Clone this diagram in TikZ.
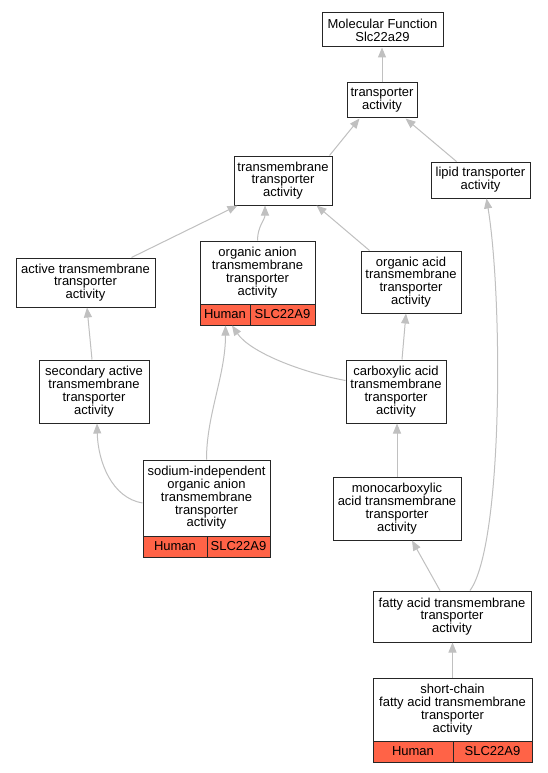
\documentclass[tikz,border=0pt]{standalone}
\usepackage{fontspec}
\setmainfont{Liberation Sans}
\usetikzlibrary{arrows.meta,calc}
\definecolor{edgegray}{RGB}{192,192,192}
\definecolor{tomatofill}{RGB}{255,99,71}
\begin{document}
\begin{tikzpicture}[x=1pt,y=-1pt,
  box/.style={draw=black!85, line width=1pt, fill=white, inner sep=0pt, align=center,
    font=\fontsize{13}{12.8}\selectfont},
  cell/.style={box, fill=tomatofill},
  frame/.style={draw=black!85, line width=1pt, inner sep=0pt},
  edge/.style={draw=edgegray, line width=1pt, -{Triangle[length=10pt,width=8pt]}}]
\useasboundingbox[fill=white] (0,0) rectangle (547,773);

% plain nodes
\node[box, minimum width=121, minimum height=34] (mf) at (382.5,30) {Molecular Function\\Slc22a29};
\node[box, minimum width=70, minimum height=35] (tr) at (382,100.5) {transporter\\activity};
\node[box, minimum width=98, minimum height=49] (tm) at (283,180.5) {transmembrane\\transporter\\activity};
\node[box, minimum width=99, minimum height=36] (lp) at (480.5,180) {lipid transporter\\activity};
\node[box, minimum width=139, minimum height=49] (act) at (85.5,282.5) {active transmembrane\\transporter\\activity};
\node[box, minimum width=100, minimum height=62] (oacid) at (411,282) {organic acid\\transmembrane\\transporter\\activity};
\node[box, minimum width=110, minimum height=63] (sec) at (94,391.5) {secondary active\\transmembrane\\transporter\\activity};
\node[box, minimum width=100, minimum height=63] (carb) at (396,391.5) {carboxylic acid\\transmembrane\\transporter\\activity};
\node[box, minimum width=128, minimum height=63] (mono) at (397,508.5) {monocarboxylic\\acid transmembrane\\transporter\\activity};
\node[box, minimum width=158, minimum height=51] (fa) at (452,616.5) {fatty acid transmembrane\\transporter\\activity};

% record: organic anion
\node[box, minimum width=115, minimum height=63] (oatop) at (257.5,272.5) {organic anion\\transmembrane\\transporter\\activity};
\node[cell, minimum width=50, minimum height=21] (oah) at (225,314.5) {Human};
\node[cell, minimum width=65, minimum height=21] (oag) at (282.5,314.5) {SLC22A9};
\node[frame, minimum width=115, minimum height=84] (oa) at (257.5,283) {};

% record: sodium-independent
\node[box, minimum width=127, minimum height=76] (sitop) at (206.5,498) {sodium-independent\\organic anion\\transmembrane\\transporter\\activity};
\node[cell, minimum width=64, minimum height=21] (sih) at (175,546.5) {Human};
\node[cell, minimum width=63, minimum height=21] (sig) at (238.5,546.5) {SLC22A9};
\node[frame, minimum width=127, minimum height=97] (si) at (206.5,508.5) {};

% record: short-chain
\node[box, minimum width=159, minimum height=63] (sctop) at (452.5,709.5) {short-chain\\fatty acid transmembrane\\transporter\\activity};
\node[cell, minimum width=80, minimum height=21] (sch) at (413,751.5) {Human};
\node[cell, minimum width=79, minimum height=21] (scg) at (492.5,751.5) {SLC22A9};
\node[frame, minimum width=159, minimum height=84] (sc) at (452.5,720) {};

% edges
\draw[edge] (tr.north) -- (tr.north |- mf.south);
\draw[edge] ($(tm.north east)+(-3,0)$) -- ($(tr.south west)+(13,0)$);
\draw[edge] ($(lp.north west)+(26,0)$) -- ($(tr.south east)+(-12,0)$);
\draw[edge] ($(act.north east)+(-24,0)$) -- ($(tm.south west)+(4,0)$);
\draw[edge] (oa.north) .. controls ($(oa.north)+(0,-14)$) and ($(tm.south)+(-18,14)$) .. ($(tm.south)+(-18,0)$);
\draw[edge] ($(oacid.north west)+(9,0)$) -- ($(tm.south east)+(-16,0)$);
\draw[edge] ($(sec.north)+(-2,0)$) -- ($(act.south)+(1.5,0)$);
\draw[edge] ($(carb.west)+(0,-11)$) .. controls (300,372) and (250,352) .. ($(oa.south)+(-25.5,0)$);
\draw[edge] ($(carb.north)+(6,0)$) -- ($(oacid.south)+(-5,0)$);
\draw[edge] ($(si.west)+(0,-5.5)$) .. controls (112,498) and (98,462) .. ($(sec.south)+(3,0)$);
\draw[edge] (si.north) .. controls ($(si.north)+(0,-45)$) and ($(oa.south)+(-32,50)$) .. ($(oa.south)+(-32,0)$);
\draw[edge] (mono.north) -- (mono.north |- carb.south);
\draw[edge] ($(fa.north)+(-12,0)$) -- ($(mono.south)+(15,0)$);
\draw[edge] ($(fa.north)+(18,0)$) .. controls (503,545) and (503,300) .. ($(lp.south)+(6,0)$);
\draw[edge] (sc.north) -- (sc.north |- fa.south);
\end{tikzpicture}
\end{document}
